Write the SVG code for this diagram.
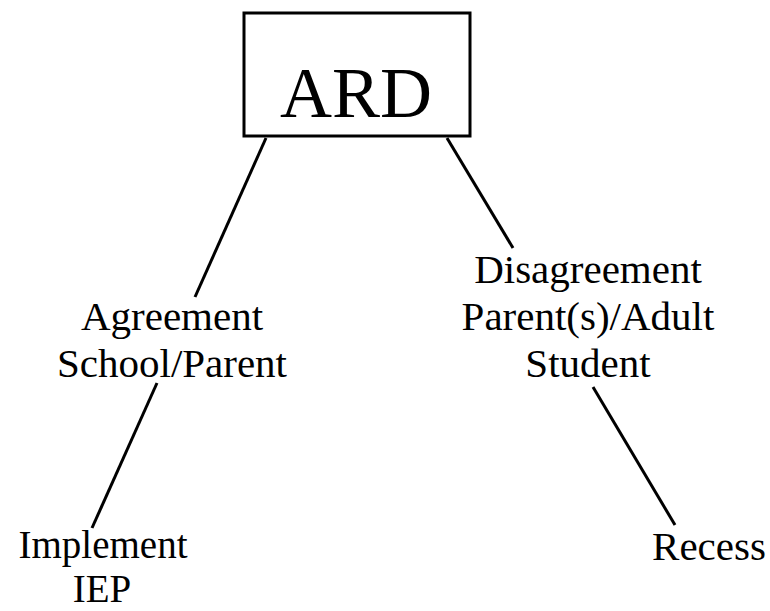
<svg xmlns="http://www.w3.org/2000/svg" width="770" height="611" viewBox="0 0 770 611">
<style>
.t{font-family:"Liberation Serif","Times New Roman",serif;font-size:41px;fill:#000;text-anchor:middle}
.c line{stroke:#000;stroke-width:3;stroke-linecap:butt}
</style>
<rect width="770" height="611" fill="#fff"/>
<g id="connectors" class="c">
<line x1="266" y1="138" x2="195" y2="297"/>
<line x1="447" y1="138" x2="513" y2="248"/>
<line x1="157" y1="383" x2="92" y2="528"/>
<line x1="593" y1="387" x2="675" y2="525"/>
</g>
<g id="ard">
<rect x="244" y="13" width="226" height="123" fill="#fff" stroke="#000" stroke-width="3"/>
<text x="356" y="117" class="t" style="font-size:72px">ARD</text>
</g>
<g id="agreement">
<text class="t"><tspan x="172" y="330">Agreement</tspan><tspan x="172" y="377">School/Parent</tspan></text>
</g>
<g id="disagreement">
<text class="t"><tspan x="588" y="283">Disagreement</tspan><tspan x="588" y="330">Parent(s)/Adult</tspan><tspan x="588" y="377">Student</tspan></text>
</g>
<g id="implement">
<text class="t" style="font-size:39px"><tspan x="103" y="558">Implement</tspan><tspan x="102" y="602">IEP</tspan></text>
</g>
<g id="recess">
<text x="709" y="560" class="t">Recess</text>
</g>
</svg>
